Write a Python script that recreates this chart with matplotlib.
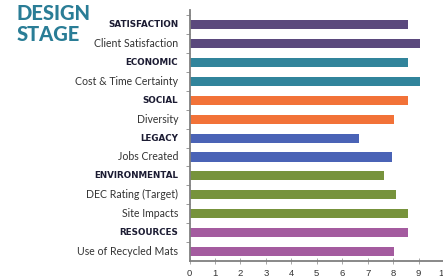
import numpy as np
import matplotlib
matplotlib.use("Agg")
import matplotlib.pyplot as plt

plt.rcParams["font.family"] = ["Lato", "DejaVu Sans"]

labels = [
    "SATISFACTION",
    "Client Satisfaction",
    "ECONOMIC",
    "Cost & Time Certainty",
    "SOCIAL",
    "Diversity",
    "LEGACY",
    "Jobs Created",
    "ENVIRONMENTAL",
    "DEC Rating (Target)",
    "Site Impacts",
    "RESOURCES",
    "Use of Recycled Mats",
]
is_header = [True, False, True, False, True, False, True, False, True, False, False, True, False]
values = [8.6, 9.05, 8.6, 9.05, 8.6, 8.05, 6.65, 7.95, 7.65, 8.1, 8.6, 8.6, 8.05]
groups = ["sat", "sat", "eco", "eco", "soc", "soc", "leg", "leg", "env", "env", "env", "res", "res"]
xticks = list(range(0, 11))

colors = {
    "sat": "#5b497d",
    "eco": "#31849b",
    "soc": "#f27238",
    "leg": "#4a63b6",
    "env": "#77933c",
    "res": "#a45b9f",
}

fig = plt.figure(figsize=(4.43, 2.79), dpi=100)
fig.patch.set_facecolor("white")

ax = fig.add_axes([189.5 / 443, 1 - 261 / 279, 254.5 / 443, 251 / 279])
y = np.arange(len(labels))
ax.barh(y, values, height=0.48, color=[colors[g] for g in groups], zorder=2)

ax.set_xlim(0, 10)
ax.set_ylim(12.5, -0.77)
ax.set_xticks(xticks)
ax.set_xticklabels([str(t) for t in xticks], fontsize=6.8, color="#333333",
                   family=["Liberation Sans", "DejaVu Sans"])
ax.tick_params(axis="x", direction="inout", length=4, width=0.6, color="#999999", pad=4)

ax.set_yticks(y)
ax.set_yticklabels([])
ax.tick_params(axis="y", which="major", length=0)
ax.set_yticks(np.arange(-0.5, 12.0, 1.0), minor=True)
ax.tick_params(axis="y", which="minor", direction="out", length=3, width=0.6, color="#888888")

for s in ["top", "right"]:
    ax.spines[s].set_visible(False)
ax.spines["left"].set_color("#7f7f7f")
ax.spines["left"].set_linewidth(1.3)
ax.spines["bottom"].set_color("#7f7f7f")
ax.spines["bottom"].set_linewidth(1.3)

for yi, lab, hdr in zip(y, labels, is_header):
    if hdr:
        ax.text(-0.45, yi, lab, ha="right", va="center", fontsize=6.3,
                fontweight="bold", color="#1c1c33",
                family=["DejaVu Sans"], transform=ax.transData)
    else:
        ax.text(-0.45, yi, lab, ha="right", va="center", fontsize=7.6,
                color="#333333", transform=ax.transData)

fig.text(17 / 443, 1 - 4 / 279, "DESIGN\nSTAGE", ha="left", va="top", fontsize=14.5,
         fontweight="black", color="#2a7d96", linespacing=1.1)

fig.savefig("out.png", dpi=100)
